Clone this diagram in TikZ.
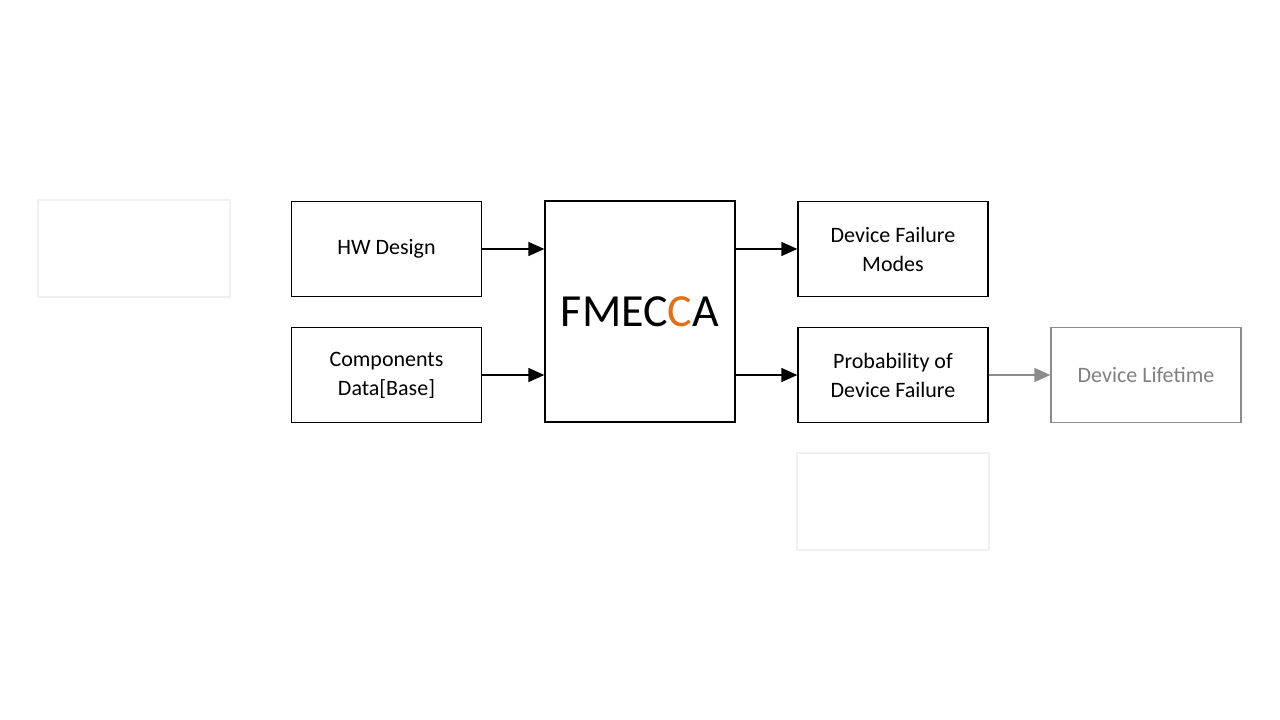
\documentclass[tikz,border=0pt]{standalone}
\usepackage{fontspec}
\setmainfont{Carlito}
\usetikzlibrary{arrows.meta}
\definecolor{orng}{RGB}{230,110,20}
\tikzset{
  box/.style={draw,line width=1.3pt,minimum width=190pt,minimum height=95pt,align=center,font=\fontsize{22}{29}\selectfont,inner sep=0},
  faint/.style={draw=black!6,line width=1.3pt,minimum width=192pt,minimum height=97pt},
  arr/.style={-{Triangle[length=16pt,width=14pt]},line width=1.3pt}
}
\begin{document}
\begin{tikzpicture}[x=1pt,y=-1pt]
\useasboundingbox (0,0) rectangle (1280,720);
\node[faint] (f1) at (134,248.5) {};
\node[faint] (f2) at (893,501.5) {};
\node[box] (hw) at (386.5,249) {HW Design};
\node[box] (cd) at (386.5,375) {Components\\Data[Base]};
\node[box,minimum height=221pt,font=\fontsize{46}{50}\selectfont] (fm) at (640,311.5) {FMEC\textcolor{orng}{C}A};
\node[box] (dfm) at (893,249) {Device Failure\\Modes};
\node[box] (pdf) at (893,375) {Probability of\\Device Failure};
\node[box,draw=black!45,text=black!50] (dl) at (1146,375) {Device Lifetime};
\draw[arr] (hw.east) -- (fm.west |- hw.east);
\draw[arr] (cd.east) -- (fm.west |- cd.east);
\draw[arr] (fm.east |- dfm.west) -- (dfm.west);
\draw[arr] (fm.east |- pdf.west) -- (pdf.west);
\draw[arr,draw=black!45,fill=black!45] (pdf.east) -- (dl.west);
\end{tikzpicture}
\end{document}
